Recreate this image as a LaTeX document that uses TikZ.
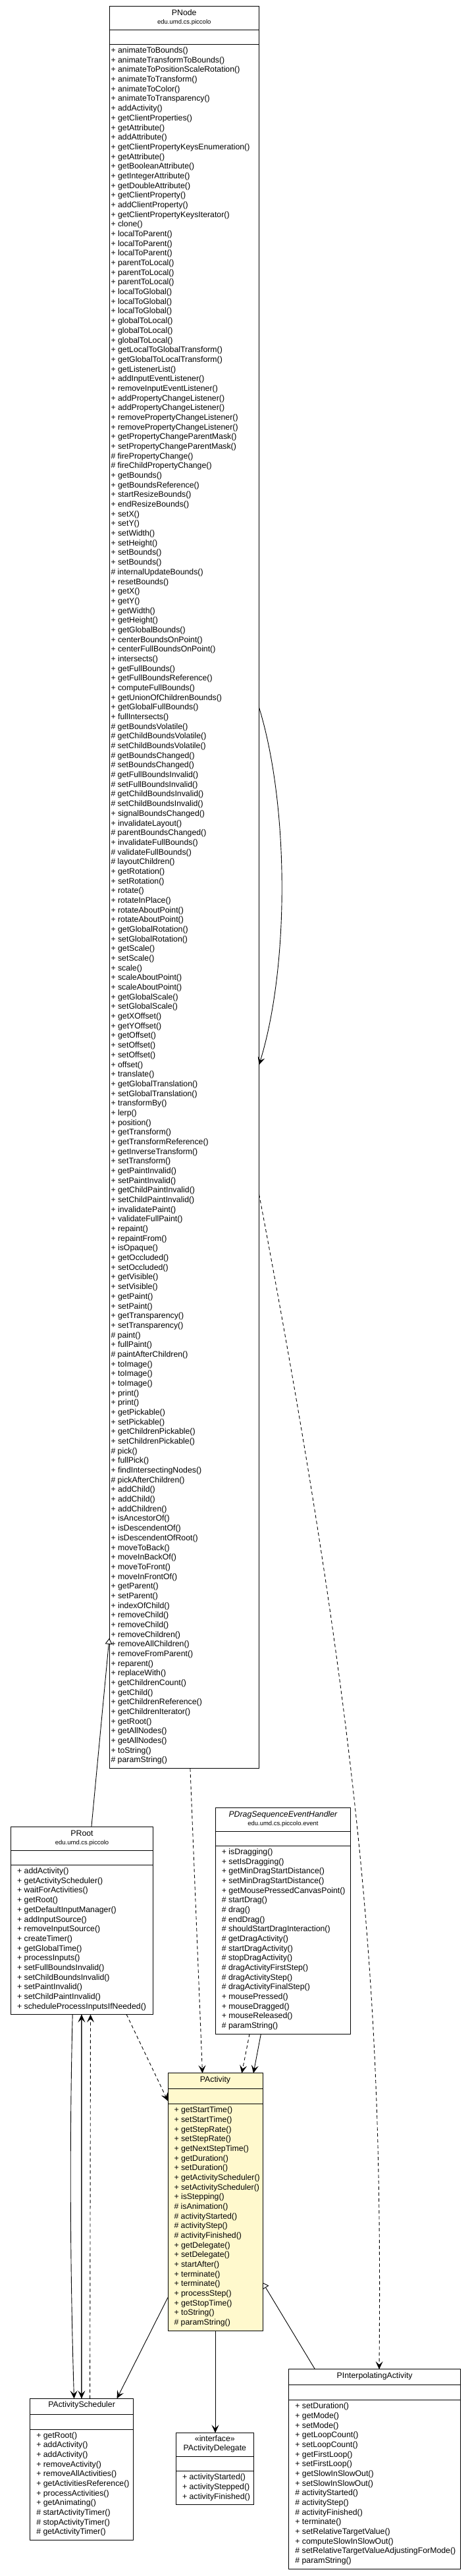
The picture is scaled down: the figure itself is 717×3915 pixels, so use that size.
\documentclass[tikz,border=0pt]{standalone}
\usepackage{fontspec}
\setmainfont{Liberation Sans}
\usetikzlibrary{arrows.meta,calc}
\definecolor{pactfill}{RGB}{255,249,205}
\newcommand{\mlist}[4]{\foreach \t [count=\i from 0] in {#4} {\node[mline] (#1m\i) at ($(#1.north west)+(#2,#3+\i*14.68)$) {\t};}}
\begin{document}
\begin{tikzpicture}[x=1pt,y=-1pt,
  box/.style={draw=black, line width=1pt, fill=white, inner sep=0pt, outer sep=0pt, anchor=north west},
  ttl/.style={font=\fontsize{12.3}{14.68}\selectfont, inner sep=0pt, anchor=base},
  pkg/.style={font=\fontsize{9.5}{11}\selectfont, inner sep=0pt, anchor=base},
  mline/.style={font=\fontsize{12.3}{14.68}\selectfont, inner sep=0pt, outer sep=0pt, anchor=base west},
  sepl/.style={line width=1pt},
  dep/.style={line width=0.9pt, dash pattern=on 5pt off 4pt, -{Stealth[length=12pt,width=11pt,inset=5pt]}},
  nav/.style={line width=0.9pt, -{Stealth[length=12pt,width=11pt,inset=5pt]}},
  gen/.style={line width=0.9pt, -{Triangle[open,length=9pt,width=11pt,fill=white]}}
]
\useasboundingbox (0,0) rectangle (717,3915);

% ---------------- PNode ----------------
\node[box, minimum width=227.5pt, minimum height=2678.2pt] (pnode) at (166,9.3) {};
\node[ttl] (pnodet) at ($(pnode.north)+(0,14.5)$) {PNode};
\node[pkg] (pnodep) at ($(pnode.north)+(0,27.3)$) {edu.umd.cs.piccolo};
\draw[sepl] ($(pnode.north west)+(0,36)$) -- ($(pnode.north east)+(0,36)$);
\draw[sepl] ($(pnode.north west)+(0,58.5)$) -- ($(pnode.north east)+(0,58.5)$);
\mlist{pnode}{2.5}{71.3}{+ animateToBounds(),
+ animateTransformToBounds(),
+ animateToPositionScaleRotation(),
+ animateToTransform(),
+ animateToColor(),
+ animateToTransparency(),
+ addActivity(),
+ getClientProperties(),
+ getAttribute(),
+ addAttribute(),
+ getClientPropertyKeysEnumeration(),
+ getAttribute(),
+ getBooleanAttribute(),
+ getIntegerAttribute(),
+ getDoubleAttribute(),
+ getClientProperty(),
+ addClientProperty(),
+ getClientPropertyKeysIterator(),
+ clone(),
+ localToParent(),
+ localToParent(),
+ localToParent(),
+ parentToLocal(),
+ parentToLocal(),
+ parentToLocal(),
+ localToGlobal(),
+ localToGlobal(),
+ localToGlobal(),
+ globalToLocal(),
+ globalToLocal(),
+ globalToLocal(),
+ getLocalToGlobalTransform(),
+ getGlobalToLocalTransform(),
+ getListenerList(),
+ addInputEventListener(),
+ removeInputEventListener(),
+ addPropertyChangeListener(),
+ addPropertyChangeListener(),
+ removePropertyChangeListener(),
+ removePropertyChangeListener(),
+ getPropertyChangeParentMask(),
+ setPropertyChangeParentMask(),
\# firePropertyChange(),
\# fireChildPropertyChange(),
+ getBounds(),
+ getBoundsReference(),
+ startResizeBounds(),
+ endResizeBounds(),
+ setX(),
+ setY(),
+ setWidth(),
+ setHeight(),
+ setBounds(),
+ setBounds(),
\# internalUpdateBounds(),
+ resetBounds(),
+ getX(),
+ getY(),
+ getWidth(),
+ getHeight(),
+ getGlobalBounds(),
+ centerBoundsOnPoint(),
+ centerFullBoundsOnPoint(),
+ intersects(),
+ getFullBounds(),
+ getFullBoundsReference(),
+ computeFullBounds(),
+ getUnionOfChildrenBounds(),
+ getGlobalFullBounds(),
+ fullIntersects(),
\# getBoundsVolatile(),
\# getChildBoundsVolatile(),
\# setChildBoundsVolatile(),
\# getBoundsChanged(),
\# setBoundsChanged(),
\# getFullBoundsInvalid(),
\# setFullBoundsInvalid(),
\# getChildBoundsInvalid(),
\# setChildBoundsInvalid(),
+ signalBoundsChanged(),
+ invalidateLayout(),
\# parentBoundsChanged(),
+ invalidateFullBounds(),
\# validateFullBounds(),
\# layoutChildren(),
+ getRotation(),
+ setRotation(),
+ rotate(),
+ rotateInPlace(),
+ rotateAboutPoint(),
+ rotateAboutPoint(),
+ getGlobalRotation(),
+ setGlobalRotation(),
+ getScale(),
+ setScale(),
+ scale(),
+ scaleAboutPoint(),
+ scaleAboutPoint(),
+ getGlobalScale(),
+ setGlobalScale(),
+ getXOffset(),
+ getYOffset(),
+ getOffset(),
+ setOffset(),
+ setOffset(),
+ offset(),
+ translate(),
+ getGlobalTranslation(),
+ setGlobalTranslation(),
+ transformBy(),
+ lerp(),
+ position(),
+ getTransform(),
+ getTransformReference(),
+ getInverseTransform(),
+ setTransform(),
+ getPaintInvalid(),
+ setPaintInvalid(),
+ getChildPaintInvalid(),
+ setChildPaintInvalid(),
+ invalidatePaint(),
+ validateFullPaint(),
+ repaint(),
+ repaintFrom(),
+ isOpaque(),
+ getOccluded(),
+ setOccluded(),
+ getVisible(),
+ setVisible(),
+ getPaint(),
+ setPaint(),
+ getTransparency(),
+ setTransparency(),
\# paint(),
+ fullPaint(),
\# paintAfterChildren(),
+ toImage(),
+ toImage(),
+ toImage(),
+ print(),
+ print(),
+ getPickable(),
+ setPickable(),
+ getChildrenPickable(),
+ setChildrenPickable(),
\# pick(),
+ fullPick(),
+ findIntersectingNodes(),
\# pickAfterChildren(),
+ addChild(),
+ addChild(),
+ addChildren(),
+ isAncestorOf(),
+ isDescendentOf(),
+ isDescendentOfRoot(),
+ moveToBack(),
+ moveInBackOf(),
+ moveToFront(),
+ moveInFrontOf(),
+ getParent(),
+ setParent(),
+ indexOfChild(),
+ removeChild(),
+ removeChild(),
+ removeChildren(),
+ removeAllChildren(),
+ removeFromParent(),
+ reparent(),
+ replaceWith(),
+ getChildrenCount(),
+ getChild(),
+ getChildrenReference(),
+ getChildrenIterator(),
+ getRoot(),
+ getAllNodes(),
+ getAllNodes(),
+ toString(),
\# paramString()}

% ---------------- PRoot ----------------
\node[box, minimum width=215.5pt, minimum height=285.3pt] (proot) at (16.8,2776.3) {};
\node[ttl] (proott) at ($(proot.north)+(0,14.5)$) {PRoot};
\node[pkg] (prootp) at ($(proot.north)+(0,27.3)$) {edu.umd.cs.piccolo};
\draw[sepl] ($(proot.north west)+(0,36)$) -- ($(proot.north east)+(0,36)$);
\draw[sepl] ($(proot.north west)+(0,58.5)$) -- ($(proot.north east)+(0,58.5)$);
\mlist{proot}{9.3}{71.3}{+ addActivity(),
+ getActivityScheduler(),
+ waitForActivities(),
+ getRoot(),
+ getDefaultInputManager(),
+ addInputSource(),
+ removeInputSource(),
+ createTimer(),
+ getGlobalTime(),
+ processInputs(),
+ setFullBoundsInvalid(),
+ setChildBoundsInvalid(),
+ setPaintInvalid(),
+ setChildPaintInvalid(),
+ scheduleProcessInputsIfNeeded()}

% ---------------- PDragSequenceEventHandler ----------------
\node[box, minimum width=204.6pt, minimum height=344pt] (pdrag) at (327.6,2747) {};
\node[ttl] (pdragt) at ($(pdrag.north)+(0,14.5)$) {\itshape PDragSequenceEventHandler};
\node[pkg] (pdragp) at ($(pdrag.north)+(0,27.3)$) {edu.umd.cs.piccolo.event};
\draw[sepl] ($(pdrag.north west)+(0,36)$) -- ($(pdrag.north east)+(0,36)$);
\draw[sepl] ($(pdrag.north west)+(0,58.5)$) -- ($(pdrag.north east)+(0,58.5)$);
\mlist{pdrag}{9.3}{71.3}{+ isDragging(),
+ setIsDragging(),
+ getMinDragStartDistance(),
+ setMinDragStartDistance(),
+ getMousePressedCanvasPoint(),
\# startDrag(),
\# drag(),
\# endDrag(),
\# shouldStartDragInteraction(),
\# getDragActivity(),
\# startDragActivity(),
\# stopDragActivity(),
\# dragActivityFirstStep(),
\# dragActivityStep(),
\# dragActivityFinalStep(),
+ mousePressed(),
+ mouseDragged(),
+ mouseReleased(),
\# paramString()}

% ---------------- PActivity ----------------
\node[box, fill=pactfill, minimum width=144pt, minimum height=391.3pt] (pact) at (255,3150.8) {};
\node[ttl] (pactt) at ($(pact.north)+(0,13.5)$) {PActivity};
\draw[sepl] ($(pact.north west)+(0,24)$) -- ($(pact.north east)+(0,24)$);
\draw[sepl] ($(pact.north west)+(0,47)$) -- ($(pact.north east)+(0,47)$);
\mlist{pact}{9.5}{59.8}{+ getStartTime(),
+ setStartTime(),
+ getStepRate(),
+ setStepRate(),
+ getNextStepTime(),
+ getDuration(),
+ setDuration(),
+ getActivityScheduler(),
+ setActivityScheduler(),
+ isStepping(),
\# isAnimation(),
\# activityStarted(),
\# activityStep(),
\# activityFinished(),
+ getDelegate(),
+ setDelegate(),
+ startAfter(),
+ terminate(),
+ terminate(),
+ processStep(),
+ getStopTime(),
+ toString(),
\# paramString()}

% ---------------- PActivityScheduler ----------------
\node[box, minimum width=157.2pt, minimum height=215.1pt] (psched) at (45.5,3645.3) {};
\node[ttl] (pschedt) at ($(psched.north)+(0,13.5)$) {PActivityScheduler};
\draw[sepl] ($(psched.north west)+(0,24)$) -- ($(psched.north east)+(0,24)$);
\draw[sepl] ($(psched.north west)+(0,47)$) -- ($(psched.north east)+(0,47)$);
\mlist{psched}{9.8}{59.8}{+ getRoot(),
+ addActivity(),
+ addActivity(),
+ removeActivity(),
+ removeAllActivities(),
+ getActivitiesReference(),
+ processActivities(),
+ getAnimating(),
\# startActivityTimer(),
\# stopActivityTimer(),
\# getActivityTimer()}

% ---------------- PActivityDelegate ----------------
\node[box, minimum width=117.9pt, minimum height=109.5pt] (pdel) at (267.4,3697.4) {};
\node[ttl] (pdels) at ($(pdel.north)+(0,13.5)$) {«interface»};
\node[ttl] (pdelt) at ($(pdel.north)+(0,27.5)$) {PActivityDelegate};
\draw[sepl] ($(pdel.north west)+(0,36)$) -- ($(pdel.north east)+(0,36)$);
\draw[sepl] ($(pdel.north west)+(0,58.5)$) -- ($(pdel.north east)+(0,58.5)$);
\mlist{pdel}{9.6}{71.5}{+ activityStarted(),
+ activityStepped(),
+ activityFinished()}

% ---------------- PInterpolatingActivity ----------------
\node[box, minimum width=260.7pt, minimum height=303.5pt] (pinterp) at (438.8,3600.8) {};
\node[ttl] (pinterpt) at ($(pinterp.north)+(0,13.5)$) {PInterpolatingActivity};
\draw[sepl] ($(pinterp.north west)+(0,24)$) -- ($(pinterp.north east)+(0,24)$);
\draw[sepl] ($(pinterp.north west)+(0,47)$) -- ($(pinterp.north east)+(0,47)$);
\mlist{pinterp}{9.6}{59.8}{+ setDuration(),
+ getMode(),
+ setMode(),
+ getLoopCount(),
+ setLoopCount(),
+ getFirstLoop(),
+ setFirstLoop(),
+ getSlowInSlowOut(),
+ setSlowInSlowOut(),
\# activityStarted(),
\# activityStep(),
\# activityFinished(),
+ terminate(),
+ setRelativeTargetValue(),
+ computeSlowInSlowOut(),
\# setRelativeTargetValueAdjustingForMode(),
\# paramString()}

% ---------------- connector end points ----------------
\coordinate (genRootA) at ([xshift=122.1pt]proot.north west);
\coordinate (genRootB) at ([yshift=197.7pt]pnode.south west);
\coordinate (selfA) at ([yshift=-1065.9pt]pnode.north east);
\coordinate (selfB) at ([yshift=-1609.1pt]pnode.north east);
\coordinate (depIA) at ([yshift=-1805.7pt]pnode.north east);
\coordinate (depIB) at ([xshift=137.2pt]pinterp.north west);
\coordinate (depNA) at ([xshift=122.9pt]pnode.south west);
\coordinate (depNB) at ([xshift=52.5pt]pact.north west);
\coordinate (depRA) at ([xshift=175.4pt]proot.south west);
\coordinate (depRB) at ([yshift=-42.2pt]pact.north west);
\coordinate (depDA) at ([xshift=51.5pt]pdrag.south west);
\coordinate (depDB) at ([xshift=112.3pt]pact.north west);
\coordinate (navDA) at ([xshift=68.8pt]pdrag.south west);
\coordinate (navDB) at ([xshift=130pt]pact.north west);
\coordinate (rsA1) at ([xshift=93.4pt]proot.south west);
\coordinate (rsB1) at ([xshift=67pt]psched.north west);
\coordinate (rsA2) at ([xshift=107.1pt]proot.south west);
\coordinate (rsB2) at ([xshift=78.4pt]psched.north west);
\coordinate (rsA3) at ([xshift=120.7pt]proot.south west);
\coordinate (rsB3) at ([xshift=91.1pt]psched.north west);
\coordinate (asA) at ([yshift=-340.9pt]pact.north west);
\coordinate (asB) at ([xshift=132.1pt]psched.north west);
\coordinate (genIA) at ([xshift=39.7pt]pinterp.north west);
\coordinate (genIB) at ([yshift=-318.2pt]pact.north east);

% ---------------- connectors ----------------
\draw[gen] (genRootA) -- (genRootB);
\draw[nav] (selfA) .. controls +(46,150) and +(46,-150) .. (selfB);
\draw[dep] (depIA) .. controls +(171,900) and +(4,-500.8) .. (depIB);
\draw[dep] (depNA) -- (depNB);
\draw[dep] (depRA) -- (depRB);
\draw[dep] (depDA) -- (depDB);
\draw[nav] (navDA) -- (navDB);
\draw[nav] (rsA1) .. controls +(-4.7,190) and +(-6,-195) .. (rsB1);
\draw[nav] (rsA2) -- (rsB2);
\draw[nav] (rsB2) -- (rsA2);
\draw[dep] (rsB3) -- (rsA3);
\draw[nav] (asA) -- (asB);
\draw[nav] (pact.south) -- (pact.south |- pdel.north);
\draw[gen] (genIA) -- (genIB);
\end{tikzpicture}
\end{document}
